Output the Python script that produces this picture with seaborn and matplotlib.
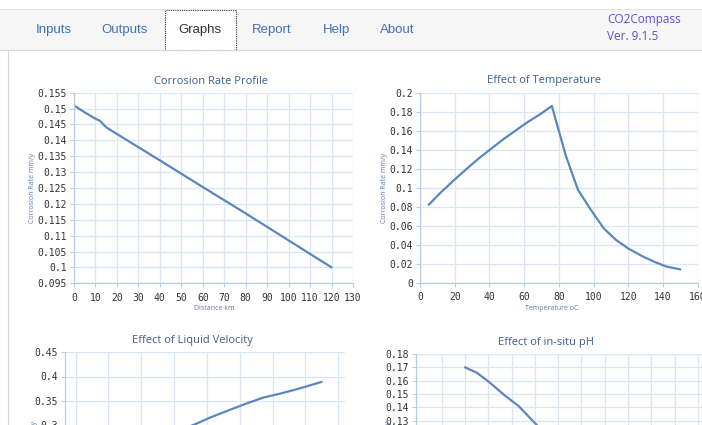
import numpy as np
import pandas as pd
import seaborn as sns
import matplotlib
matplotlib.use("Agg")
import matplotlib.pyplot as plt
from matplotlib.patches import Rectangle
from matplotlib.lines import Line2D
from matplotlib.ticker import FuncFormatter, MultipleLocator

# ---------------- data ----------------
tabs = ["Inputs", "Outputs", "Graphs", "Report", "Help", "About"]
app_name = "CO2Compass"
app_version = "Ver. 9.1.5"

dist_km = [0, 5, 10, 12, 15, 20, 40, 60, 80, 100, 120]
dist_rate = [0.151, 0.1488, 0.1468, 0.1462, 0.1441, 0.1420, 0.1337, 0.1253, 0.1170, 0.1085, 0.1000]

temp_c = [5, 12, 19, 27, 34, 41, 48, 55, 62, 69, 76, 84, 91, 98, 106, 113, 120, 128, 135, 142, 150]
temp_rate = [0.082, 0.095, 0.107, 0.120, 0.131, 0.141, 0.151, 0.160, 0.169, 0.177, 0.186,
             0.134, 0.098, 0.078, 0.057, 0.045, 0.036, 0.028, 0.022, 0.017, 0.014]

vel = [3.0, 3.69, 4.09, 4.70, 5.21, 5.72, 6.23, 6.74, 7.50]
vel_rate = [0.285, 0.304, 0.316, 0.332, 0.345, 0.357, 0.365, 0.374, 0.389]

ph = [3.8, 3.9, 4.0, 4.14, 4.26, 4.43, 4.6]
ph_rate = [0.170, 0.166, 0.1595, 0.149, 0.141, 0.1255, 0.110]

# ---------------- style ----------------
W, H = 702, 425
sns.set_theme(style="whitegrid")
plt.rcParams["font.family"] = ["DejaVu Sans"]

GRID = "#dbe6f2"
SPINE = "#b9cde2"
LINE = "#5a87c0"
TITLE_C = "#3c5f8c"
LABEL_C = "#5d7ea8"
TICK_C = "#333333"
TAB_C = "#3f72b5"

fig = plt.figure(figsize=(W / 100, H / 100), dpi=100)
fig.patch.set_facecolor("white")


def fx(x):
    return x / W


def fy(y):
    return 1 - y / H


def add_ax(left, top, right, bottom):
    return fig.add_axes([fx(left), fy(bottom), (right - left) / W, (bottom - top) / H])


# top bar
fig.add_artist(Rectangle((0, fy(50)), 1, (50 - 9) / H, transform=fig.transFigure,
                         facecolor="#f6f6f6", edgecolor="none", zorder=0))
fig.add_artist(Line2D([0, 1], [fy(9), fy(9)], transform=fig.transFigure, color="#e4e4e4", lw=0.8))
fig.add_artist(Line2D([0, 1], [fy(50), fy(50)], transform=fig.transFigure, color="#d6d6d6", lw=0.8))
fig.add_artist(Line2D([fx(8), fx(8)], [0, fy(50)], transform=fig.transFigure, color="#d6d6d6", lw=0.8))
fig.add_artist(Rectangle((fx(165), fy(50)), 71 / W, 40 / H, transform=fig.transFigure,
                         facecolor="white", edgecolor="#333333", lw=0.8, ls=(0, (1, 1)), zorder=1))

tab_x = [54, 125, 200, 272, 336, 397]
for t, x in zip(tabs, tab_x):
    fig.text(fx(x), fy(30), t, ha="center", va="center", fontsize=9.5,
             family=["Liberation Sans", "DejaVu Sans"],
             color="#333333" if t == "Graphs" else TAB_C, zorder=3)
fig.text(fx(607), fy(20), app_name, ha="left", va="center", fontsize=8.5,
         family=["Open Sans", "DejaVu Sans"], color="#5f4fd3")
fig.text(fx(607), fy(37), app_version, ha="left", va="center", fontsize=8.5,
         family=["Open Sans", "DejaVu Sans"], color="#5f4fd3")


def fmt(v, pos):
    return f"{round(v, 5):g}"


def style(ax, xlim, ylim, xstep, ystep, x0=None):
    ax.set_facecolor("white")
    ax.set_xlim(*xlim)
    ax.set_ylim(*ylim)
    if x0 is None:
        ax.xaxis.set_major_locator(MultipleLocator(xstep))
    else:
        ticks = [x0 + i * xstep for i in range(40) if x0 + i * xstep <= xlim[1] + 1e-9]
        ax.set_xticks(ticks)
    ax.yaxis.set_major_locator(MultipleLocator(ystep))
    ax.yaxis.set_major_formatter(FuncFormatter(fmt))
    ax.xaxis.set_major_formatter(FuncFormatter(fmt))
    ax.grid(True, color=GRID, lw=0.9)
    for s in ["top", "right"]:
        ax.spines[s].set_visible(False)
    for s in ["left", "bottom"]:
        ax.spines[s].set_visible(True)
        ax.spines[s].set_color(SPINE)
        ax.spines[s].set_linewidth(0.9)
    ax.tick_params(axis="both", which="major", length=3, width=0.8, color=SPINE,
                   labelsize=7, labelcolor=TICK_C, pad=2, direction="out",
                   bottom=True, left=True)
    ax.tick_params(axis="x", pad=3.8)
    for lab in ax.get_xticklabels() + ax.get_yticklabels():
        lab.set_family(["DejaVu Sans Mono"])
    ax.set_xlabel("")
    ax.set_ylabel("")


def plot(ax, x, y):
    df = pd.DataFrame({"x": x, "y": y})
    sns.lineplot(data=df, x="x", y="y", ax=ax, color=LINE, lw=1.6, sort=False,
                 estimator=None, clip_on=True)


def title(x, y, s):
    fig.text(fx(x), fy(y), s, ha="center", va="center", fontsize=8,
             family=["Open Sans", "DejaVu Sans"], color=TITLE_C)


def small(x, y, s, rot=0):
    fig.text(fx(x), fy(y), s, ha="center", va="center", fontsize=5,
             family=["Open Sans", "DejaVu Sans"], color=LABEL_C, rotation=rot)


# chart 1
ax1 = add_ax(74, 92.7, 353, 283.3)
plot(ax1, dist_km, dist_rate)
style(ax1, (0, 130), (0.095, 0.155), 10, 0.005)
title(211, 81, "Corrosion Rate Profile")
small(33, 188, "Corrosion Rate mm/y", 90)
small(214, 308, "Distance km")

# chart 2
ax2 = add_ax(420, 92.7, 697.6, 282.7)
plot(ax2, temp_c, temp_rate)
style(ax2, (0, 160), (0, 0.2), 20, 0.02)
title(544, 81, "Effect of Temperature")
small(385, 188, "Corrosion Rate mm/y", 90)
small(552, 308, "Temperature oC")

# chart 3
ax3 = add_ax(65, 352, 345, 548)
plot(ax3, vel, vel_rate)
style(ax3, (-0.326, 8.21), (0.05, 0.45), 1, 0.05, x0=0)
title(192, 341, "Effect of Liquid Velocity")
small(35, 456, "Corrosion Rate mm/y", 90)

# chart 4
ax4 = add_ax(415.7, 354, 705, 540.7)
plot(ax4, ph, ph_rate)
style(ax4, (3.377, 5.86), (0.04, 0.18), 0.2, 0.01, x0=3.6)
title(546, 343, "Effect of in-situ pH")
small(388, 456, "Corrosion Rate mm/y", 90)

fig.savefig("out.png", dpi=100, facecolor="white")
